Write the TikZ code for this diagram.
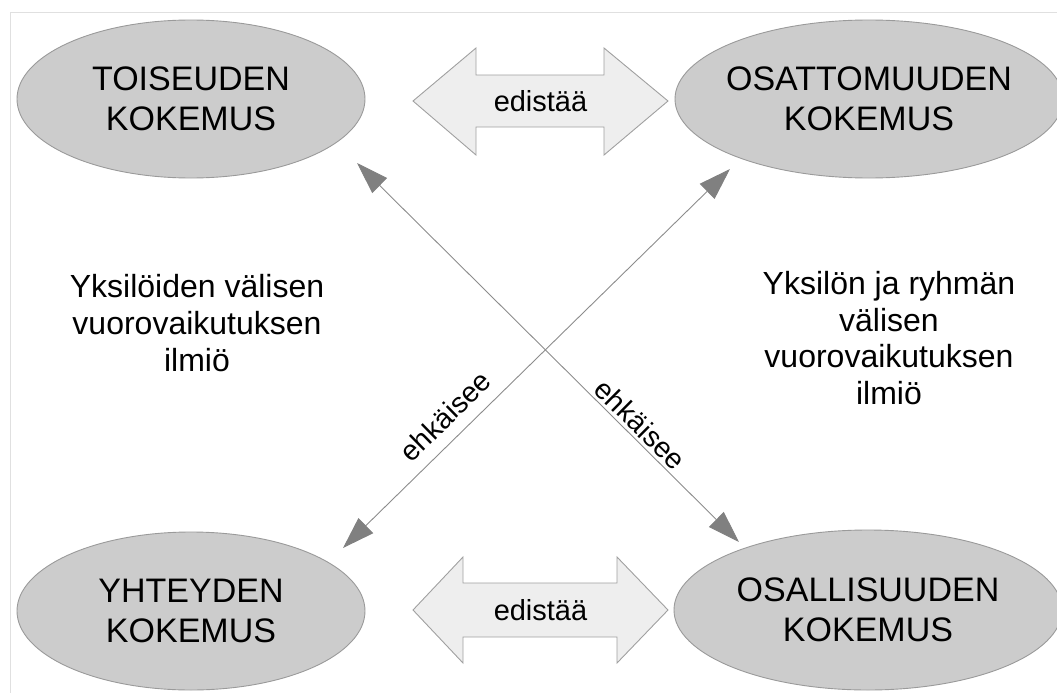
\documentclass[tikz,border=0pt]{standalone}
\usepackage{fontspec}
\setmainfont{Liberation Sans}
\usetikzlibrary{arrows.meta,shapes.geometric}
\definecolor{ellfill}{HTML}{CCCCCC}
\definecolor{elldraw}{HTML}{9A9A9A}
\definecolor{blkfill}{HTML}{EEEEEE}
\definecolor{blkdraw}{HTML}{A0A0A0}
\definecolor{conncol}{HTML}{8C8C8C}
\definecolor{headcol}{HTML}{808080}
\definecolor{framecol}{HTML}{E0E0E0}
\begin{document}
\begin{tikzpicture}[x=1pt,y=-1pt,
  ell/.style={ellipse, draw=elldraw, fill=ellfill, line width=0.9pt, inner sep=0pt},
  elltext/.style={align=center, inner sep=0pt, font=\fontsize{34}{40}\selectfont},
  sidetext/.style={align=center, inner sep=0pt, font=\fontsize{32}{36.8}\selectfont},
  blk/.style={draw=blkdraw, fill=blkfill, line width=0.9pt, line join=miter},
  blktext/.style={inner sep=0pt, font=\fontsize{29}{33}\selectfont},
  conn/.style={draw=conncol, line width=0.9pt,
    {Triangle[length=32pt,width=21pt,fill=headcol,color=headcol]}-{Triangle[length=32pt,width=21pt,fill=headcol,color=headcol]}},
  lbl/.style={inner sep=0pt, font=\fontsize{28.5}{32}\selectfont}]
\useasboundingbox (0,0) rectangle (1057,693);
\draw[framecol, line width=1pt] (10,693) -- (10,13) -- (1057,13);

% ellipses
\node[ell, minimum width=348, minimum height=158] (TL) at (191,99) {};
\node[elltext] (TLt) at (TL) {TOISEUDEN\\KOKEMUS};
\node[ell, minimum width=388, minimum height=158] (TR) at (869,99) {};
\node[elltext] (TRt) at (TR) {OSATTOMUUDEN\\KOKEMUS};
\node[ell, minimum width=348, minimum height=158] (BL) at (191,611) {};
\node[elltext] (BLt) at (BL) {YHTEYDEN\\KOKEMUS};
\node[ell, minimum width=388, minimum height=160] (BR) at (868,610) {};
\node[elltext] (BRt) at (BR) {OSALLISUUDEN\\KOKEMUS};

% block double arrows
\draw[blk] (413,101) -- (476,48) -- (476,75) -- (604,75) -- (604,48) -- (668,101)
  -- (604,155) -- (604,127) -- (476,127) -- (476,155) -- cycle;
\node[blktext] (E1) at (540.5,101) {edistää};
\draw[blk] (413,610) -- (463,557) -- (463,583) -- (617,583) -- (617,557) -- (668,610)
  -- (617,663) -- (617,637) -- (463,637) -- (463,663) -- cycle;
\node[blktext] (E2) at (540.5,610) {edistää};

% side texts
\node[sidetext] (LT) at (197,323) {Yksilöiden välisen\\vuorovaikutuksen\\ilmiö};
\node[sidetext] (RT) at (889,338) {Yksilön ja ryhmän\\välisen\\vuorovaikutuksen\\ilmiö};

% crossing arrows
\coordinate (a1) at (357,163);
\coordinate (a2) at (739,542);
\coordinate (b1) at (343,548);
\coordinate (b2) at (730,169);
\draw[conn] (a1) -- node[lbl, pos=0.716, sloped, above=3pt] (L1) {ehkäisee} (a2);
\draw[conn] (b1) -- node[lbl, pos=0.305, sloped, above=12pt] (L2) {ehkäisee} (b2);
\end{tikzpicture}
\end{document}
